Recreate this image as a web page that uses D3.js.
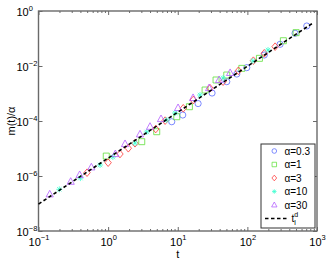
<!DOCTYPE html>
<html>
<head>
<meta charset="utf-8">
<script src="https://cdn.jsdelivr.net/npm/d3@7"></script>
<style>
  body { margin: 0; background: #fff; }
  text { font-family: "Liberation Sans", Arial, sans-serif; fill: #000; }
</style>
</head>
<body>
<script>
// series
const alphas = ['0.3', '1', '3', '10', '30']
const colors = ['#5a6bff', '#5fe03a', '#ff3535', '#3dffd0', '#b25bff']
const markers = ['circle', 'square', 'diamond', 'asterisk', 'triangle']

const t03 = [8.2, 11.8, 19.6, 31.1, 50.6, 70.5, 98, 175, 295, 484, 713]
const m03 = [9.4e-5, 1.65e-4, 4.3e-4, 1.04e-3, 2.69e-3, 5.1e-3, 8.7e-3, 0.0251, 0.0615, 0.155, 0.285]
const t1 = [0.94, 3.04, 4.99, 9.68, 14.7, 24.7, 35.5, 50.6, 83.2, 149, 329, 501]
const m1 = [5.3e-6, 1.77e-5, 4.08e-5, 1.43e-4, 3.31e-4, 1.34e-3, 3.1e-3, 4.7e-3, 8.2e-3, 0.019, 0.083, 0.163]
const t3 = [0.498, 1.0, 1.48, 1.95, 2.43, 4.83, 6.58, 12.0, 16.7, 29.1, 44.8, 74.3, 122, 175, 250]
const m3 = [1.32e-6, 3.05e-6, 6.3e-6, 1.02e-5, 1.55e-5, 5.1e-5, 1.03e-4, 2.9e-4, 5.8e-4, 1.55e-3, 2.69e-3, 6.7e-3, 0.0156, 0.029, 0.0504]
const t10 = [0.199, 0.40, 0.766, 1.17, 2.43, 3.59, 6.95, 9.15, 20.9, 44.8, 120, 198]
const m10 = [3.28e-7, 8.4e-7, 2.51e-6, 4.9e-6, 1.58e-5, 3.98e-5, 1.09e-4, 1.95e-4, 8.8e-4, 3.66e-3, 0.0152, 0.0382]
const t30 = [0.145, 0.29, 0.39, 0.574, 1.27, 1.75, 2.87, 4.0, 5.75, 10.1, 16.6, 28.2, 39.3, 56.5]
const m30 = [2.16e-7, 6.2e-7, 1.09e-6, 2.07e-6, 6.3e-6, 1.46e-5, 3.28e-5, 6.2e-5, 1.18e-4, 2.97e-4, 6.9e-4, 1.58e-3, 3.1e-3, 5.6e-3]

// power law t^(d_l), the two ends of the dashed line
const fitT = [0.1, 900]
const fitM = [9.55e-8, 0.383]

const xTicks = [0.1, 1, 10, 100, 1000]
const xExp = ['-1', '0', '1', '2', '3']
const yTicks = [1, 1e-2, 1e-4, 1e-6, 1e-8]
const yExp = ['0', '-2', '-4', '-6', '-8']

const W = 327, H = 260
const L = 38.5, R = 317, T = 11, B = 231

const svg = d3.select('body').append('svg')
  .attr('width', W)
  .attr('height', H)

const x = d3.scaleLog().domain([0.1, 1000]).range([L, R])
const y = d3.scaleLog().domain([1e-8, 1]).range([B, T])

const series = [[t03, m03], [t1, m1], [t3, m3], [t10, m10], [t30, m30]]
  .map(([ts, ms], i) => ({ i, pts: ts.map((t, k) => ({ t, m: ms[k] })) }))

const markerPath = (type) => {
  switch (type) {
    case 'circle': return d3.symbol(d3.symbolCircle, 30)()
    case 'square': return 'M-3,-3H3V3H-3Z'
    case 'diamond': return 'M0,-3.8L3.2,0L0,3.8L-3.2,0Z'
    case 'triangle': return 'M0,-4L3.6,2.6L-3.6,2.6Z'
    case 'asterisk': return 'M-3,0H3M0,-3V3M-2.2,-2.2L2.2,2.2M-2.2,2.2L2.2,-2.2'
  }
}

// minor x ticks
const minors = []
for (let e = -1; e < 3; e++) for (let k = 2; k < 10; k++) minors.push(k * Math.pow(10, e))

const axisCol = '#6a6a6a'

const styleAxis = g => {
  g.select('.domain').remove()
  g.selectAll('line').attr('stroke', axisCol).attr('stroke-width', 1)
}

svg.append('g').attr('transform', `translate(0,${B})`)
  .call(d3.axisBottom(x).tickValues(minors).tickFormat('').tickSizeInner(-2).tickSizeOuter(0))
  .call(styleAxis)
svg.append('g').attr('transform', `translate(0,${T})`)
  .call(d3.axisTop(x).tickValues(minors).tickFormat('').tickSizeInner(-2).tickSizeOuter(0))
  .call(styleAxis)
svg.append('g').attr('transform', `translate(0,${T})`)
  .call(d3.axisTop(x).tickValues(xTicks).tickFormat('').tickSizeInner(-4).tickSizeOuter(0))
  .call(styleAxis)
svg.append('g').attr('transform', `translate(${R},0)`)
  .call(d3.axisRight(y).tickValues(yTicks).tickFormat('').tickSizeInner(-4).tickSizeOuter(0))
  .call(styleAxis)

// bottom axis with labels 10^n
const xAxis = svg.append('g').attr('transform', `translate(0,${B})`)
  .call(d3.axisBottom(x).tickValues(xTicks).tickSizeInner(-4).tickSizeOuter(0).tickPadding(0))
  .call(styleAxis)
xAxis.selectAll('.tick text').each(function (d, i) {
  const s = d3.select(this).text('').attr('y', 15).attr('dy', null)
    .attr('font-size', 11).attr('font-family', 'Liberation Sans, Arial, sans-serif')
  s.append('tspan').text('10')
  s.append('tspan').attr('dy', -6).attr('font-size', 7.5).text(xExp[i].replace('-', '\u2212'))
})

const yAxis = svg.append('g').attr('transform', `translate(${L},0)`)
  .call(d3.axisLeft(y).tickValues(yTicks).tickSizeInner(-4).tickSizeOuter(0).tickPadding(0))
  .call(styleAxis)
yAxis.selectAll('.tick text').each(function (d, i) {
  const s = d3.select(this).text('').attr('x', -22).attr('dy', '0.38em')
    .attr('text-anchor', 'start')
    .attr('font-size', 11).attr('font-family', 'Liberation Sans, Arial, sans-serif')
  s.append('tspan').text('10')
  s.append('tspan').attr('dy', -5).attr('font-size', 7.5).text(yExp[i].replace('-', '\u2212'))
})

// frame
svg.append('rect')
  .attr('x', L).attr('y', T)
  .attr('width', R - L).attr('height', B - T)
  .attr('fill', 'none')
  .attr('stroke', axisCol)
  .attr('stroke-width', 1.4)

// markers
const sg = svg.append('g')
series.forEach(s => {
  sg.append('g').selectAll('path')
    .data(s.pts)
    .enter().append('path')
    .attr('d', markerPath(markers[s.i]))
    .attr('transform', d => `translate(${x(d.t)},${y(d.m)})`)
    .attr('fill', 'none')
    .attr('stroke', colors[s.i])
    .attr('stroke-width', 0.8)
})

// fit line on top
const line = d3.line().x(d => x(d.t)).y(d => y(d.m))
svg.append('path')
  .attr('d', line(fitT.map((t, i) => ({ t, m: fitM[i] }))))
  .attr('fill', 'none')
  .attr('stroke', '#000')
  .attr('stroke-width', 1.6)
  .attr('stroke-dasharray', '3.5,2.5')

// axis titles
svg.append('text')
  .attr('x', (L + R) / 2).attr('y', 258)
  .attr('text-anchor', 'middle')
  .attr('font-size', 11)
  .text('t')

svg.append('text')
  .attr('transform', `translate(14.5,${(T + B) / 2}) rotate(-90)`)
  .attr('text-anchor', 'middle')
  .attr('font-size', 11)
  .text('m(t)/\u03b1')

// legend
const lg = svg.append('g')
lg.append('rect')
  .attr('x', 261).attr('y', 144)
  .attr('width', 54).attr('height', 84)
  .attr('fill', '#fff')
  .attr('stroke', '#333')
  .attr('stroke-width', 1)

const rowY = i => 151 + i * 13.5
alphas.forEach((a, i) => {
  lg.append('path')
    .attr('d', markerPath(markers[i]))
    .attr('transform', `translate(274.3,${rowY(i)}) scale(0.75)`)
    .attr('fill', 'none')
    .attr('stroke', colors[i])
    .attr('stroke-width', 1)
  lg.append('text')
    .attr('x', 284.5).attr('y', rowY(i) + 3.5)
    .attr('font-size', 10)
    .text('\u03b1=' + a)
})
lg.append('line')
  .attr('x1', 265).attr('x2', 288)
  .attr('y1', rowY(5)).attr('y2', rowY(5))
  .attr('stroke', '#000')
  .attr('stroke-width', 1.3)
  .attr('stroke-dasharray', '3.5,2.5')
const ft = lg.append('text')
  .attr('x', 291.5).attr('y', rowY(5) + 3.5)
  .attr('font-size', 10)
ft.append('tspan').text('t')
ft.append('tspan').attr('dy', -5).attr('font-size', 7).text('d')
ft.append('tspan').attr('dx', -4).attr('dy', 8).attr('font-size', 7).text('l')
</script>
</body>
</html>
